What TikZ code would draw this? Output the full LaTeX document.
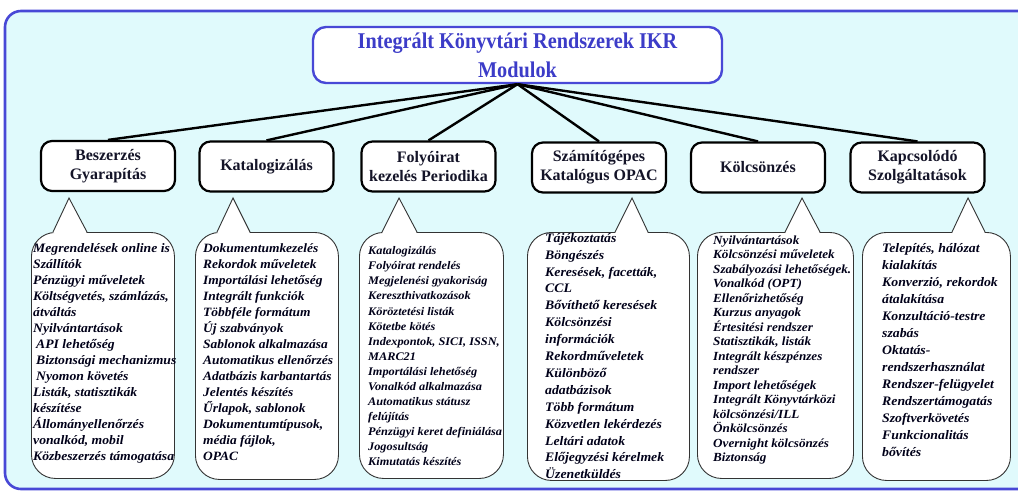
\documentclass[tikz,border=0pt]{standalone}
\usepackage{fontspec}
\setmainfont{Liberation Serif}
\newfontfamily\titlefont{Liberation Serif}[FakeStretch=0.9]
\newfontfamily\notefont{Liberation Serif}[FakeStretch=1.06]
\definecolor{panelfill}{HTML}{E0FAFC}
\definecolor{panelline}{HTML}{4848D6}
\definecolor{titleblue}{HTML}{3C3CC8}
\definecolor{modtext}{HTML}{141428}
\begin{document}
\begin{tikzpicture}[x=1pt,y=-1pt,
  panel/.style={fill=panelfill,draw=panelline,line width=2.6pt,rounded corners=16pt},
  titlebox/.style={draw=panelline,fill=white,line width=2.4pt,rounded corners=13pt,
    minimum width=409pt,minimum height=56pt,inner sep=0pt,align=center,
    text=titleblue,font=\titlefont\fontsize{22.5}{29}\selectfont\bfseries},
  modbox/.style={draw=black,fill=white,line width=2.2pt,rounded corners=11pt,
    minimum width=134pt,minimum height=50pt,inner sep=0pt,align=center,
    text=modtext,font=\fontsize{16}{19}\selectfont\bfseries},
  link/.style={draw=black,line width=2.4pt},
  cbody/.style={draw=black!80,fill=white,line width=0.9pt,rounded corners=24pt,
    anchor=north west,inner sep=0pt},
  ctext/.style={anchor=north west,inner sep=0pt,align=left,text=black!90!blue}
]
\useasboundingbox (0,0) rectangle (1018,491);

% background panel
\begin{scope}
  \clip (0,0) rectangle (1018,491);
  \draw[panel] (5,11) rectangle (1040,489);
\end{scope}

% title
\node[titlebox] (title) at (517.5,55) {Integrált Könyvtári Rendszerek IKR\\Modulok};

% module boxes
\node[modbox] (m1) at (108,166) {Beszerzés\\Gyarapítás};
\node[modbox] (m2) at (266.5,166.5) {Katalogizálás};
\node[modbox] (m3) at (428.5,166.5) {Folyóirat\\kezelés Periodika};
\node[modbox] (m4) at (599,167.5) {Számítógépes\\Katalógus OPAC};
\node[modbox] (m5) at (758,167.5) {Kölcsönzés};
\node[modbox] (m6) at (917.5,167.5) {Kapcsolódó\\Szolgáltatások};

\foreach \m in {m1,m2,m3,m4,m5,m6}
  \draw[link] (title.south) -- (\m.north);

% callout: body node, then pointer wedge toward the module box
% #1 name, #2 left, #3 top, #4 width, #5 height, #6 wedge left, #7 wedge right, #8 tip x
\newcommand\callout[8]{%
  \node[cbody,minimum width=#4pt,minimum height=#5pt] (#1) at (#2,#3) {};
  \coordinate (#1tip) at (#8,198);
  \coordinate (#1a) at (#6,#3);
  \coordinate (#1b) at (#7,#3);
  \fill[white] ([yshift=-1.5pt]#1a) -- (#1tip) -- ([yshift=-1.5pt]#1b) -- cycle;
  \draw[draw=black!80,line width=0.9pt,line join=miter] (#1a) -- (#1tip) -- (#1b);
}

\callout{c1}{31}{232}{143}{246}{53}{87}{69}
\callout{c2}{195}{232}{143}{247}{217}{250}{233}
\callout{c3}{359}{232}{144}{246}{382}{417}{399}
\callout{c4}{527}{232}{162}{248}{615}{648}{632}
\callout{c5}{697}{232}{156}{246}{785}{820}{802}
\callout{c6}{862}{232}{148}{248}{952}{985}{968}

\node[ctext,font=\notefont\fontsize{12.9}{16}\selectfont\bfseries\itshape] (t1) at (33,243) {%
Megrendelések online is\\
Szállítók\\
Pénzügyi műveletek\\
Költségvetés, számlázás,\\
átváltás\\
Nyilvántartások\\
\hspace{3pt}API lehetőség\\
\hspace{3pt}Biztonsági mechanizmus\\
\hspace{3pt}Nyomon követés\\
Listák, statisztikák\\
készítése\\
Állományellenőrzés\\
vonalkód, mobil\\
Közbeszerzés támogatása};

\node[ctext,font=\notefont\fontsize{12.7}{16}\selectfont\bfseries\itshape] (t2) at (203,243) {%
Dokumentumkezelés\\
Rekordok műveletek\\
Importálási lehetőség\\
Integrált funkciók\\
Többféle formátum\\
Új szabványok\\
Sablonok alkalmazása\\
Automatikus ellenőrzés\\
Adatbázis karbantartás\\
Jelentés készítés\\
Űrlapok, sablonok\\
Dokumentumtípusok,\\
média fájlok,\\
OPAC};

\node[ctext,font=\notefont\fontsize{11.6}{15.07}\selectfont\bfseries\itshape] (t3) at (368,246.5) {%
Katalogizálás\\
Folyóirat rendelés\\
Megjelenési gyakoriság\\
Kereszthivatkozások\\
Köröztetési listák\\
Kötetbe kötés\\
Indexpontok, SICI, ISSN,\\
MARC21\\
Importálási lehetőség\\
Vonalkód alkalmazása\\
Automatikus státusz\\
felújítás\\
Pénzügyi keret definiálása\\
Jogosultság\\
Kimutatás készítés};

\node[ctext,font=\notefont\fontsize{13}{16.9}\selectfont\bfseries\itshape] (t4) at (545,233) {%
Tájékoztatás\\
Böngészés\\
Keresések, facetták,\\
CCL\\
Bővíthető keresések\\
Kölcsönzési\\
információk\\
Rekordműveletek\\
Különböző\\
adatbázisok\\
Több formátum\\
Közvetlen lekérdezés\\
Leltári adatok\\
Előjegyzési kérelmek\\
Üzenetküldés};

\node[ctext,font=\notefont\fontsize{12.4}{14.5}\selectfont\bfseries\itshape] (t5) at (713,235.5) {%
Nyilvántartások\\
Kölcsönzési műveletek\\
Szabályozási lehetőségek.\\
Vonalkód (OPT)\\
Ellenőrizhetőség\\
Kurzus anyagok\\
Értesitési rendszer\\
Statisztikák, listák\\
Integrált készpénzes\\
rendszer\\
Import lehetőségek\\
Integrált Könyvtárközi\\
kölcsönzési/ILL\\
Önkölcsönzés\\
Overnight kölcsönzés\\
Biztonság};

\node[ctext,font=\notefont\fontsize{13}{17}\selectfont\bfseries\itshape] (t6) at (882,243) {%
Telepítés, hálózat\\
kialakítás\\
Konverzió, rekordok\\
átalakítása\\
Konzultáció-testre\\
szabás\\
Oktatás-\\
rendszerhasználat\\
Rendszer-felügyelet\\
Rendszertámogatás\\
Szoftverkövetés\\
Funkcionalitás\\
bővítés};
\end{tikzpicture}
\end{document}
